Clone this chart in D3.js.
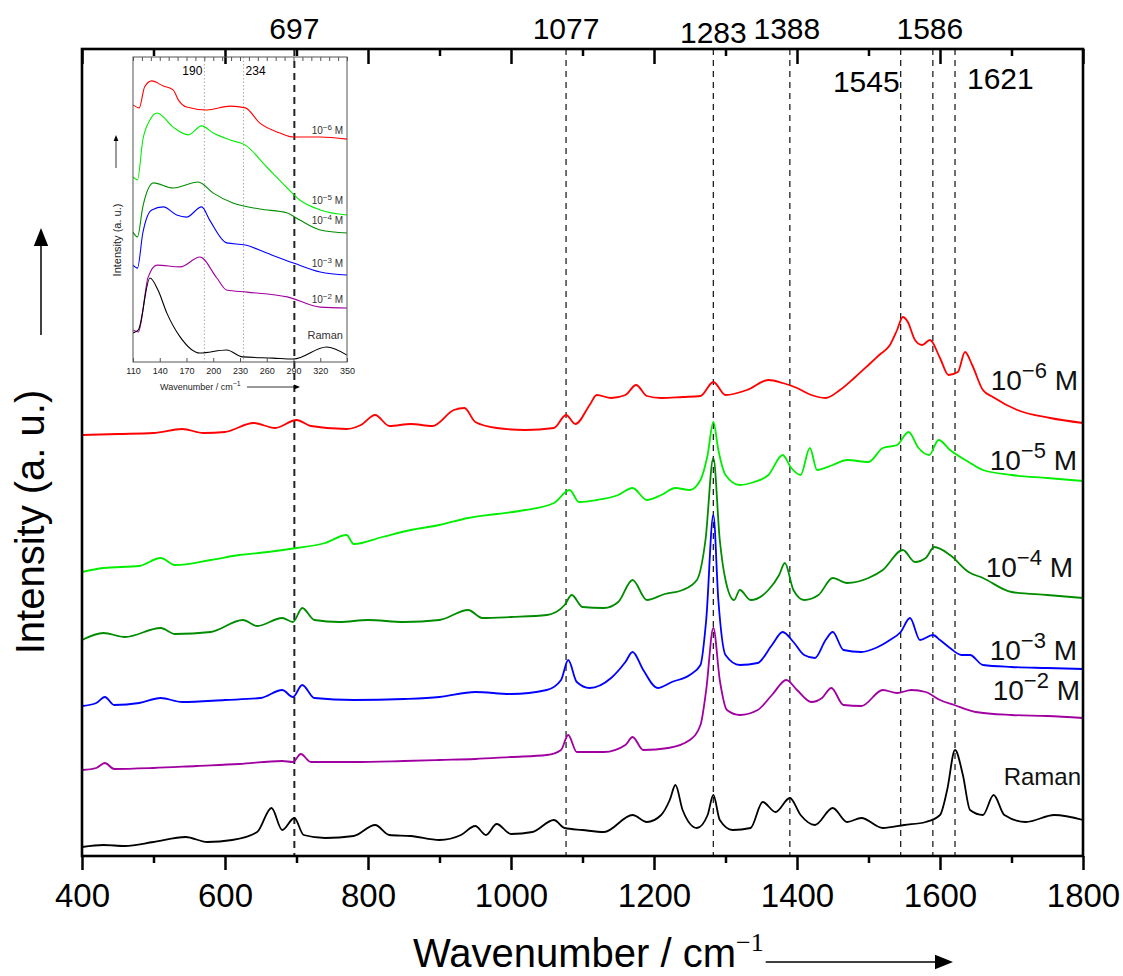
<!DOCTYPE html>
<html>
<head>
<meta charset="utf-8">
<script src="https://cdn.jsdelivr.net/npm/d3@7"></script>
<style>
	body { margin: 0; background: #fff; }
	svg { display: block; font-family: "Liberation Sans", Arial, sans-serif; }
	.axis .domain { display: none; }
	.axis line { stroke: #000; stroke-width: 2.5; }
</style>
</head>
<body>
<div id="chart"></div>
<script>
// main spectra: [wavenumber, intensity (a.u., offset included)]
var raman = [[400,0.9],[430,1.1],[460,1.0],[500,1.4],[545,1.9],[575,1.4],[610,1.6],[645,2.4],[665,4.8],[680,2.6],[697,3.8],[710,2.1],[740,1.8],[780,2.0],[810,3.1],[830,2.1],[860,2.0],[900,1.6],[930,2.1],[950,3.0],[965,2.1],[980,3.2],[1000,2.2],[1030,2.4],[1060,3.6],[1075,2.8],[1100,2.6],[1130,2.4],[1170,4.1],[1190,3.4],[1210,4.1],[1222,5.6],[1230,7.1],[1240,4.6],[1260,2.8],[1275,4.1],[1283,6.1],[1292,3.6],[1310,2.6],[1335,2.8],[1352,5.4],[1370,4.4],[1390,5.8],[1405,4.1],[1425,3.1],[1450,4.8],[1470,3.4],[1490,3.8],[1520,2.8],[1550,3.1],[1580,3.4],[1600,4.1],[1610,6.6],[1621,10.6],[1632,8.1],[1642,4.6],[1660,4.1],[1675,6.1],[1690,4.1],[1720,3.4],[1760,4.1],[1800,3.6]];

var m2 = [[400,8.6],[420,8.8],[432,9.3],[445,8.7],[500,8.8],[560,9.0],[620,9.2],[680,9.5],[695,9.4],[706,10.2],[720,9.4],[780,9.4],[850,9.5],[900,9.6],[950,9.7],[1000,9.9],[1050,10.1],[1070,10.6],[1080,12.1],[1092,10.4],[1130,10.4],[1160,11.1],[1170,11.9],[1185,10.6],[1220,10.8],[1250,11.6],[1265,13.1],[1273,16.6],[1283,22.8],[1292,17.6],[1302,14.6],[1320,14.1],[1345,14.6],[1365,16.1],[1385,17.6],[1400,16.6],[1420,15.4],[1435,15.8],[1448,16.8],[1465,15.1],[1490,15.0],[1520,16.6],[1540,16.3],[1560,16.6],[1580,16.4],[1600,15.6],[1620,15.1],[1650,14.4],[1700,14.1],[1750,14.0],[1800,13.8]];

var m3 = [[400,15.0],[420,15.3],[432,15.9],[445,15.1],[480,15.3],[510,15.8],[540,15.4],[600,15.6],[650,15.8],[680,16.6],[695,15.9],[708,17.1],[725,15.8],[780,15.6],[850,15.7],[900,15.9],[950,16.4],[1000,16.2],[1050,16.6],[1070,17.6],[1080,19.6],[1092,17.4],[1110,16.8],[1140,17.8],[1160,19.4],[1170,20.4],[1185,18.6],[1205,16.8],[1225,17.4],[1250,18.1],[1265,19.1],[1273,23.6],[1283,34.1],[1290,25.6],[1300,20.1],[1320,19.1],[1345,19.3],[1365,21.1],[1380,22.4],[1395,21.4],[1410,20.1],[1425,19.8],[1440,21.6],[1450,22.4],[1465,20.6],[1490,20.4],[1510,20.8],[1530,21.6],[1545,22.4],[1558,23.8],[1572,21.6],[1590,22.1],[1600,21.6],[1614,20.8],[1630,20.1],[1642,20.1],[1660,19.1],[1700,18.9],[1750,18.8],[1800,18.7]];

var m4 = [[400,21.6],[430,22.3],[460,21.9],[510,22.8],[530,22.2],[580,22.4],[625,23.6],[645,23.0],[680,23.8],[695,23.4],[708,24.8],[725,23.6],[760,23.4],[800,23.6],[850,23.4],[900,23.6],[940,24.6],[960,23.8],[1000,23.9],[1050,24.1],[1075,25.1],[1085,26.1],[1100,24.9],[1130,24.8],[1150,25.4],[1170,27.6],[1190,25.6],[1215,26.2],[1240,26.6],[1260,27.6],[1272,31.6],[1283,39.8],[1292,31.6],[1300,27.6],[1312,25.6],[1320,26.6],[1335,25.6],[1360,26.6],[1375,28.1],[1383,29.3],[1395,26.6],[1410,25.6],[1430,26.1],[1450,27.8],[1470,27.3],[1500,27.8],[1520,28.6],[1548,30.6],[1565,29.4],[1580,29.8],[1592,30.9],[1614,30.1],[1640,28.4],[1660,27.8],[1700,26.4],[1750,26.1],[1800,25.8]];

var m5 = [[400,28.4],[430,28.8],[480,29.0],[510,29.8],[530,29.1],[580,29.6],[620,30.1],[660,30.4],[700,30.8],[740,31.3],[770,32.1],[780,31.2],[820,31.9],[860,32.6],[900,33.1],[940,33.8],[980,34.2],[1020,34.6],[1060,35.3],[1082,36.6],[1095,35.4],[1120,35.6],[1150,36.1],[1170,36.8],[1190,35.6],[1210,36.1],[1230,36.8],[1250,36.6],[1265,37.6],[1275,40.1],[1283,43.4],[1290,40.6],[1300,38.1],[1320,37.1],[1340,37.4],[1360,38.1],[1380,40.1],[1392,38.8],[1405,38.1],[1418,40.8],[1428,38.6],[1450,39.1],[1470,39.6],[1500,39.4],[1520,40.8],[1540,41.1],[1556,42.4],[1570,40.8],[1585,40.1],[1598,41.6],[1614,40.6],[1640,39.4],[1660,38.6],[1700,38.1],[1750,37.8],[1800,37.5]];

var m6 = [[400,42.1],[450,42.2],[500,42.3],[540,42.7],[570,42.3],[600,42.4],[640,43.3],[670,42.8],[700,43.6],[720,43.0],[770,42.7],[790,43.1],[810,44.1],[830,43.0],[860,43.2],[890,43.0],[920,44.6],[935,44.8],[950,43.4],[980,42.8],[1020,42.6],[1060,42.8],[1077,44.1],[1090,43.2],[1110,45.1],[1120,46.1],[1140,45.8],[1160,46.1],[1175,47.1],[1190,46.0],[1210,45.8],[1240,45.9],[1265,46.0],[1283,47.4],[1300,46.1],[1330,46.6],[1360,47.6],[1380,47.3],[1400,46.8],[1420,46.1],[1440,45.8],[1460,46.6],[1480,47.8],[1500,49.1],[1515,50.1],[1530,51.1],[1540,52.6],[1548,53.9],[1555,53.4],[1565,51.6],[1575,51.1],[1586,51.6],[1600,49.8],[1612,48.1],[1625,48.4],[1635,50.4],[1645,49.1],[1660,46.6],[1674,45.9],[1708,44.6],[1754,43.8],[1800,43.3]];

var seriesNames = ["10\u22126 M", "10\u22125 M", "10\u22124 M", "10\u22123 M", "10\u22122 M", "Raman"];
var seriesColors = ["#ff0000", "#00ee00", "#008c00", "#0000ff", "#a000a0", "#000000"];
var seriesData = [m6, m5, m4, m3, m2, raman];

var peakLines = [697, 1077, 1283, 1390, 1545, 1590, 1621];
var peakLabels = ["697", "1077", "1283", "1388", "1545", "1586", "1621"];

var xMajor = [400, 600, 800, 1000, 1200, 1400, 1600, 1800];
var xMinor = [500, 700, 900, 1100, 1300, 1500, 1700];

// inset (low wavenumber region): [wavenumber, intensity]
var inRed = [[110,85.7],[117,84.7],[123,91.7],[131,93.7],[144,92.0],[155,90.7],[161,87.3],[170,85.0],[193,84.0],[219,85.3],[236,84.7],[252,79.7],[275,76.3],[290,75.0],[320,75.0],[350,74.3]];
var inLime = [[110,61.7],[115,60.7],[121,74.0],[129,80.7],[137,83.0],[155,78.3],[172,75.7],[187,78.7],[200,76.3],[219,74.0],[236,72.3],[260,65.0],[283,58.0],[297,54.0],[320,50.7],[350,49.0]];
var inGreen = [[110,43.3],[115,41.7],[121,51.7],[133,59.7],[155,58.0],[183,60.0],[200,56.3],[222,53.0],[252,51.0],[283,49.7],[297,47.3],[320,44.0],[350,43.0]];
var inBlue = [[110,32.3],[115,31.3],[121,43.0],[131,50.7],[144,51.7],[159,49.0],[170,48.3],[187,51.7],[196,47.3],[215,39.7],[236,39.0],[260,36.3],[290,33.0],[320,30.0],[350,29.0]];
var inPurple = [[110,10.7],[116,10.0],[127,28.3],[137,32.3],[163,31.7],[185,35.0],[204,28.0],[215,24.0],[238,23.3],[283,21.7],[320,18.3],[350,18.0]];
var inRaman = [[110,9.7],[116,10.7],[129,28.0],[138,24.0],[148,16.3],[163,8.3],[185,3.0],[215,4.0],[233,1.7],[267,1.3],[290,1.0],[327,5.0],[350,2.3]];
var insetData = [inRed, inLime, inGreen, inBlue, inPurple, inRaman];
var insetLabelY = [76.0, 52.7, 46.0, 31.7, 19.7, 7.7];
var insetTicks = [110, 140, 170, 200, 230, 260, 290, 320, 350];
var insetLines = [190, 234];

var W = 1123, H = 976;
var margin = { top: 49, right: 40, bottom: 120, left: 82 };

var svg = d3.select("#chart").append("svg").attr("width", W).attr("height", H);

var x = d3.scaleLinear().domain([400, 1800]).range([margin.left, 1083]);
var y = d3.scaleLinear().domain([0, 80.7]).range([856, margin.top]);

var line = d3.line().curve(d3.curveMonotoneX).x(function(d){ return x(d[0]); }).y(function(d){ return y(d[1]); });

// dashed marker lines
svg.append("g").selectAll("line")
	.data(peakLines)
	.enter().append("line")
	.attr("x1", d => x(d)).attr("x2", d => x(d))
	.attr("y1", y.range()[1]).attr("y2", y.range()[0])
	.attr("stroke", "#222")
	.attr("stroke-width", (d, i) => i === 0 ? 2 : 1.3)
	.attr("stroke-dasharray", (d, i) => i === 0 ? "7,5" : "6,5");

// spectra
svg.append("g").selectAll("path")
	.data(seriesData)
	.enter().append("path")
	.attr("d", line)
	.attr("fill", "none")
	.attr("stroke", (d, i) => seriesColors[i])
	.attr("stroke-width", 1.8)
	.attr("stroke-linejoin", "round");

// axes
svg.append("g").attr("class", "axis").attr("transform", "translate(0,856)")
	.call(d3.axisBottom(x).tickValues(xMajor).tickSize(14).tickSizeOuter(0).tickPadding(14).tickFormat(d3.format("d")))
	.selectAll("text").attr("font-size", 33).attr("fill", "#000").attr("font-family", "Liberation Sans, Arial, sans-serif");
svg.append("g").attr("class", "axis").attr("transform", "translate(0,856)")
	.call(d3.axisBottom(x).tickValues(xMinor).tickSize(7).tickSizeOuter(0).tickFormat(""));
svg.append("g").attr("class", "axis").attr("transform", "translate(0," + margin.top + ")")
	.call(d3.axisTop(x).tickValues(xMajor).tickSize(-15).tickSizeOuter(0).tickFormat(""));
svg.append("g").attr("class", "axis").attr("transform", "translate(0," + margin.top + ")")
	.call(d3.axisTop(x).tickValues(xMinor).tickSize(-7).tickSizeOuter(0).tickFormat(""));

svg.append("rect")
	.attr("x", x.range()[0]).attr("y", margin.top)
	.attr("width", x.range()[1] - x.range()[0]).attr("height", 856 - margin.top)
	.attr("fill", "none").attr("stroke", "#000").attr("stroke-width", 2.6);

// peak labels on top
var labelPos = [
	{ dy: 28, anchor: "middle", dx: 0 },
	{ dy: 28, anchor: "middle", dx: 0 },
	{ dy: 32, anchor: "middle", dx: 0 },
	{ dy: 28, anchor: "middle", dx: -3 },
	{ dy: 81, anchor: "end", dx: -1 },
	{ dy: 28, anchor: "middle", dx: -3 },
	{ dy: 78, anchor: "start", dx: 12 }
];
svg.append("g").selectAll("text")
	.data(peakLabels)
	.enter().append("text")
	.attr("x", (d, i) => x(peakLines[i]) + labelPos[i].dx)
	.attr("y", (d, i) => labelPos[i].dy)
	.attr("dy", "0.35em")
	.attr("text-anchor", (d, i) => labelPos[i].anchor)
	.attr("font-size", 30)
	.text(d => d);

// series labels on the right (right-aligned)
var labelY = [390, 470, 577, 660, 700, 785];
var labelRight = [1078, 1077, 1073, 1077, 1080, 1081];
seriesNames.forEach(function(name, i){
	var t = svg.append("text").attr("x", labelRight[i]).attr("y", labelY[i]).attr("text-anchor", "end")
		.attr("font-size", 28).attr("fill", "#111");
	if(name === "Raman"){ t.attr("font-size", 24).text(name); return; }
	var parts = name.match(/^(10)(\u2212\d) (M)$/);
	t.append("tspan").text(parts[1]);
	t.append("tspan").attr("dy", -12).attr("font-size", 22).text(parts[2]);
	t.append("tspan").attr("dy", 12).text(" " + parts[3]);
});

// axis titles
var xt = svg.append("text").attr("x", 413).attr("y", 967).attr("font-size", 40);
xt.append("tspan").text("Wavenumber / cm");
xt.append("tspan").attr("dy", -16).attr("font-size", 26).attr("font-family", "Liberation Serif, Times New Roman, serif").text("\u22121");

function arrow(g, x1, y1, x2, y2, w, head){
	var ang = Math.atan2(y2 - y1, x2 - x1);
	g.append("line").attr("x1", x1).attr("y1", y1)
		.attr("x2", x2 - Math.cos(ang) * head).attr("y2", y2 - Math.sin(ang) * head)
		.attr("stroke", "#000").attr("stroke-width", w);
	var p = d3.path();
	p.moveTo(x2, y2);
	p.lineTo(x2 - Math.cos(ang) * head - Math.sin(ang) * head * 0.4, y2 - Math.sin(ang) * head + Math.cos(ang) * head * 0.4);
	p.lineTo(x2 - Math.cos(ang) * head + Math.sin(ang) * head * 0.4, y2 - Math.sin(ang) * head - Math.cos(ang) * head * 0.4);
	p.closePath();
	g.append("path").attr("d", p.toString()).attr("fill", "#000");
}
var xtEnd = 413 + xt.node().getComputedTextLength();
arrow(svg, xtEnd + 2, 962, 953, 962, 1.5, 18);

svg.append("text")
	.attr("transform", "translate(44,522) rotate(-90)")
	.attr("text-anchor", "middle")
	.attr("font-size", 40)
	.text("Intensity (a. u.)");
arrow(svg, 41, 335, 41, 228, 1.5, 18);

// ---------- inset ----------
var ix = d3.scaleLinear().domain([110, 350]).range([133, 347]);
var iy = d3.scaleLinear().domain([0, 101.67]).range([362, 57]);
var iline = d3.line().curve(d3.curveMonotoneX).x(d => ix(d[0])).y(d => iy(d[1]));
var inset = svg.append("g");

inset.selectAll(".vline")
	.data(insetLines)
	.enter().append("line")
	.attr("x1", d => ix(d)).attr("x2", d => ix(d))
	.attr("y1", iy.range()[1]).attr("y2", iy.range()[0])
	.attr("stroke", "#aaa").attr("stroke-width", 1).attr("stroke-dasharray", "1.5,2");

inset.selectAll(".spec")
	.data(insetData)
	.enter().append("path")
	.attr("d", iline)
	.attr("fill", "none")
	.attr("stroke", (d, i) => seriesColors[i])
	.attr("stroke-width", 1.1);

inset.append("g").attr("transform", "translate(0,362)")
	.call(d3.axisBottom(ix).tickValues(insetTicks).tickSize(-4).tickSizeOuter(0).tickPadding(6))
	.call(g => g.select(".domain").remove())
	.call(g => g.selectAll("line").attr("stroke", "#555"))
	.selectAll("text").attr("font-size", 9).attr("fill", "#222");
inset.append("g").attr("transform", "translate(0,57)")
	.call(d3.axisTop(ix).ticks(24).tickSize(-4).tickSizeOuter(0).tickFormat(""))
	.call(g => g.select(".domain").remove())
	.call(g => g.selectAll("line").attr("stroke", "#555"));

inset.append("rect")
	.attr("x", 133).attr("y", 57).attr("width", 214).attr("height", 305)
	.attr("fill", "none").attr("stroke", "#555").attr("stroke-width", 1);

inset.selectAll(".plabel")
	.data(insetLines)
	.enter().append("text")
	.attr("x", (d, i) => ix(d) + (i === 0 ? -2 : 2))
	.attr("y", 75)
	.attr("text-anchor", (d, i) => i === 0 ? "end" : "start")
	.attr("font-size", 12)
	.text(d => d);

seriesNames.forEach(function(name, i){
	var t = inset.append("text").attr("x", 343).attr("y", iy(insetLabelY[i])).attr("text-anchor", "end")
		.attr("font-size", 10).attr("fill", "#333");
	if(name === "Raman"){ t.attr("font-size", 11).text(name); return; }
	var parts = name.match(/^(10)(\u2212\d) (M)$/);
	t.append("tspan").text(parts[1]);
	t.append("tspan").attr("dy", -4).attr("font-size", 8).text(parts[2]);
	t.append("tspan").attr("dy", 4).text(" " + parts[3]);
});

var ixt = inset.append("text").attr("x", 160).attr("y", 390).attr("font-size", 9).attr("fill", "#222");
ixt.append("tspan").text("Wavenumber / cm");
ixt.append("tspan").attr("dy", -4).attr("font-size", 7).text("\u22121");
arrow(inset, 247, 387, 300, 387, 0.8, 6);

inset.append("text")
	.attr("transform", "translate(121,240) rotate(-90)")
	.attr("text-anchor", "middle")
	.attr("font-size", 11)
	.attr("fill", "#222")
	.text("Intensity (a. u.)");
arrow(inset, 116, 168, 116, 135, 0.8, 6);
</script>
</body>
</html>
